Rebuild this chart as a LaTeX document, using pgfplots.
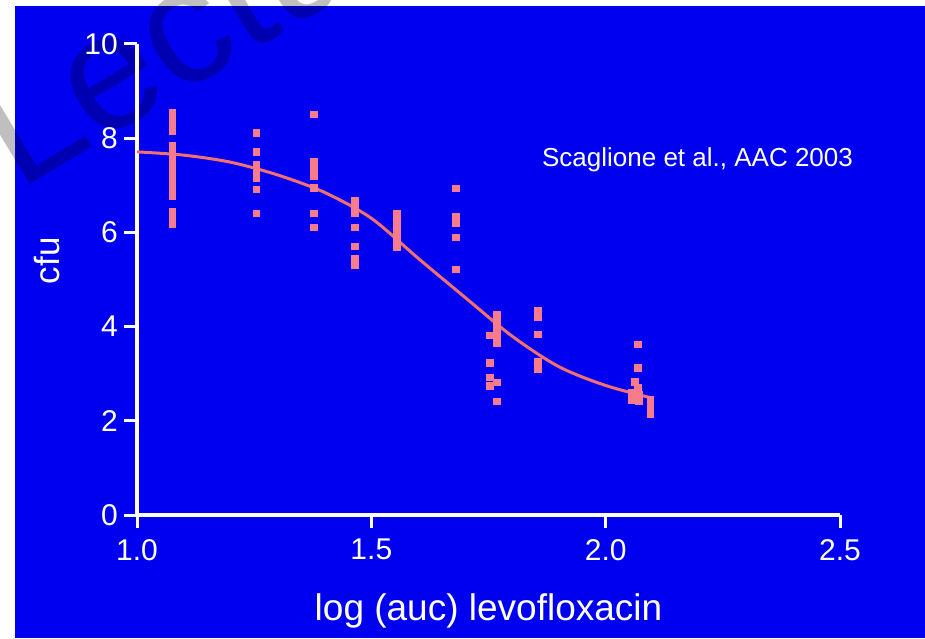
\documentclass[border=0pt]{standalone}
\usepackage{fontspec}
\setmainfont{Liberation Sans}
\usepackage{pgfplots}
\pgfplotsset{compat=1.18}
\definecolor{bgblue}{RGB}{0,0,240}
\definecolor{dotpink}{RGB}{246,124,140}
\definecolor{fitred}{RGB}{242,112,112}

\begin{document}
\begin{tikzpicture}
  \useasboundingbox (0pt,0pt) rectangle (925pt,638pt);
  \fill[white] (0pt,0pt) rectangle (925pt,638pt);
  \fill[bgblue] (15pt,0pt) rectangle (925pt,632pt);
  % watermark
  \node[rotate=31, anchor=base west, inner sep=0pt, text=black, opacity=0.25,
        font=\fontsize{165}{165}\selectfont] at (18pt,446pt) {Lecture};

  \begin{axis}[
    at={(137pt,123pt)}, anchor=south west,
    scale only axis, width=703pt, height=471pt,
    xmin=1, xmax=2.5, ymin=0, ymax=10,
    clip=false,
    axis x line*=bottom, axis y line*=left,
    axis line style={white, line width=3.5pt, -},
    xtick={1,1.5,2,2.5}, xticklabels={1.0,1.5,2.0,2.5},
    ytick={0,2,4,6,8,10}, yticklabels={0,2,4,6,8,10},
    tick align=outside, major tick length=13pt,
    tick style={white, line width=3pt},
    ticklabel style={text=white, font=\fontsize{30}{30}\selectfont},
    xticklabel style={anchor=north, inner sep=0pt, yshift=-11pt},
    yticklabel style={anchor=east, inner sep=0pt, xshift=-6pt},
    xlabel={log (auc) levofloxacin}, ylabel={cfu},
    label style={text=white, font=\fontsize{35}{35}\selectfont},
    xlabel style={at={(axis description cs:0.5,-0.204)}, anchor=center,
                  font=\fontsize{37}{37}\selectfont},
    ylabel style={at={(axis description cs:-0.128,0.54)}, anchor=center},
  ]
    % fitted curve
    \addplot[fitred, line width=3pt, smooth, no markers] coordinates {
      (1.00,7.71) (1.10,7.64) (1.20,7.49) (1.30,7.22) (1.40,6.85)
      (1.50,6.30) (1.60,5.45) (1.70,4.62) (1.80,3.80) (1.90,3.15)
      (2.00,2.75) (2.10,2.48)
    };
    % observations
    \addplot[only marks, mark=square*, mark size=3.3pt, color=dotpink] coordinates {
      (1.075,8.55) (1.075,8.45) (1.075,8.35) (1.075,8.25) (1.075,8.15)
      (1.075,7.85) (1.075,7.75) (1.075,7.65) (1.075,7.55) (1.075,7.45)
      (1.075,7.35) (1.075,7.25) (1.075,7.15) (1.075,7.05) (1.075,6.95)
      (1.075,6.85) (1.075,6.78) (1.075,6.45) (1.075,6.35) (1.075,6.25)
      (1.075,6.18)
      (1.254,8.12) (1.254,7.71) (1.254,7.45) (1.254,7.35) (1.254,7.25)
      (1.254,7.15) (1.254,6.92) (1.254,6.41)
      (1.377,8.51) (1.377,7.50) (1.377,7.40) (1.377,7.30) (1.377,7.20)
      (1.377,6.95) (1.377,6.41) (1.377,6.11)
      (1.465,6.68) (1.465,6.55) (1.465,6.42) (1.465,6.11) (1.465,5.71)
      (1.465,5.45) (1.465,5.30)
      (1.554,6.40) (1.554,6.30) (1.554,6.20) (1.554,6.10) (1.554,6.00)
      (1.554,5.90) (1.554,5.80) (1.554,5.70)
      (1.680,6.94) (1.680,6.33) (1.680,6.20) (1.680,5.90) (1.680,5.22)
      (1.767,4.25) (1.767,4.10) (1.767,3.95) (1.767,3.80) (1.767,3.65)
      (1.752,3.82) (1.752,3.23) (1.752,2.93) (1.752,2.75) (1.767,2.82)
      (1.767,2.42)
      (1.855,4.35) (1.855,4.20) (1.855,3.84) (1.855,3.25) (1.855,3.10)
      (2.068,3.63) (2.068,3.13) (2.062,2.83) (2.068,2.70) (2.055,2.60)
      (2.055,2.45) (2.070,2.55) (2.070,2.42)
      (2.095,2.45) (2.095,2.30) (2.095,2.15)
    };
    \node[anchor=base, text=white, font=\fontsize{26}{26}\selectfont]
      at (axis cs:2.196,7.39) {Scaglione et al., AAC 2003};
  \end{axis}
\end{tikzpicture}
\end{document}
